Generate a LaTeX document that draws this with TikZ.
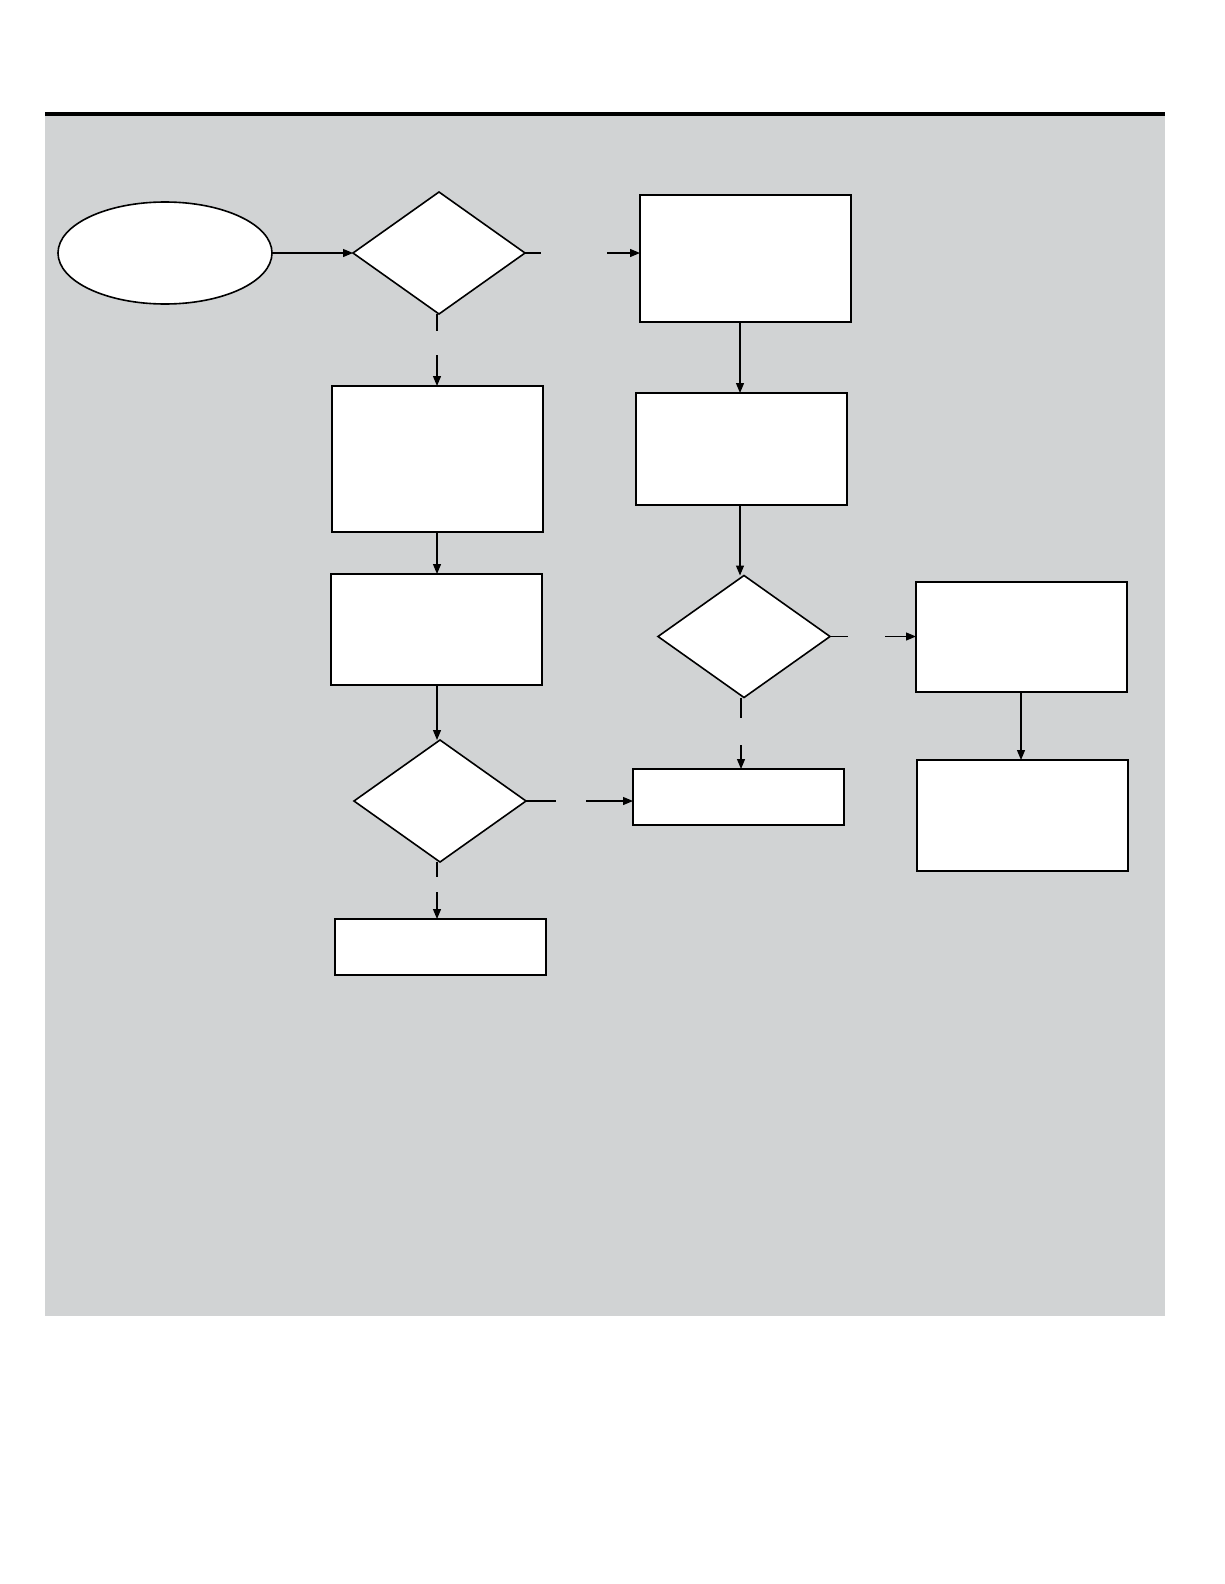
\documentclass[tikz,border=0pt]{standalone}
\usetikzlibrary{shapes.geometric,arrows.meta}
\definecolor{bggray}{RGB}{209,211,212}
\begin{document}
\begin{tikzpicture}[x=1pt,y=-1pt,
  box/.style={draw=black,fill=white,line width=2pt,rectangle,inner sep=0pt,outer sep=0pt},
  thinbox/.style={draw=black,fill=white,line width=1.2pt,rectangle,inner sep=0pt,outer sep=0pt},
  dec/.style={draw=black,fill=white,line width=1.6pt,diamond,inner sep=0pt,outer sep=0pt,minimum width=172pt,minimum height=122pt},
  term/.style={draw=black,fill=white,line width=1.6pt,ellipse,inner sep=0pt,outer sep=0pt,minimum width=214pt,minimum height=102pt},
  conn/.style={line width=1.2pt},
  arr/.style={line width=1.2pt,-{Triangle[length=10pt,width=8pt]}}]
\useasboundingbox (0,0) rectangle (1224,1584);
\fill[white] (0,0) rectangle (1224,1584);
\fill[bggray] (45,116) rectangle (1165,1316);
\draw[line width=4pt] (45,114) -- (1165,114);

\node[term] (start) at (165,253) {};
\node[dec] (d1) at (439,253) {};
\node[box, minimum width=211pt, minimum height=127pt] (a) at (745.5,258.5) {};
\node[box, minimum width=211pt, minimum height=146pt] (b) at (437.5,459) {};
\node[box, minimum width=211pt, minimum height=112pt] (c) at (741.5,449) {};
\node[box, minimum width=211pt, minimum height=111pt] (d) at (436.5,629.5) {};
\node[dec] (d2) at (744,636.5) {};
\node[box, minimum width=211pt, minimum height=110pt] (e) at (1021.5,637) {};
\node[box, minimum width=211pt, minimum height=111pt] (f) at (1022.5,815.5) {};
\node[thinbox, minimum width=211pt, minimum height=56pt] (g) at (738.5,797) {};
\node[dec] (d3) at (440,801) {};
\node[thinbox, minimum width=211pt, minimum height=56pt] (h) at (440.5,947) {};

\coordinate (d1r1) at (541,253);
\coordinate (d1r2) at (607,253);
\coordinate (d1b1) at (437,331);
\coordinate (d1b2) at (437,355);
\coordinate (d2r1) at (848,636.5);
\coordinate (d2r2) at (885,636.5);
\coordinate (d2b1) at (741,718);
\coordinate (d2b2) at (741,745);
\coordinate (d3r1) at (556,801);
\coordinate (d3r2) at (586,801);
\coordinate (d3b1) at (437,877);
\coordinate (d3b2) at (437,892);

\draw[arr] (start.east) -- (d1.west);
\draw[conn] (d1.east) -- (d1r1);
\draw[arr] (d1r2) -- (a.west |- d1r2);
\draw[conn] (d1.south -| d1b1) -- (d1b1);
\draw[arr] (d1b2) -- (b.north -| d1b2);
\draw[arr] (a.south -| 740,0) -- (c.north -| 740,0);
\draw[arr] (b.south -| 437,0) -- (d.north -| 437,0);
\draw[arr] (c.south -| 740,0) -- (d2.north -| 740,0);
\draw[conn] (d2.east) -- (d2r1);
\draw[arr] (d2r2) -- (e.west |- d2r2);
\draw[arr] (e.south -| 1021,0) -- (f.north -| 1021,0);
\draw[conn] (d2.south -| d2b1) -- (d2b1);
\draw[arr] (d2b2) -- (g.north -| d2b2);
\draw[arr] (d.south -| 437,0) -- (d3.north -| 437,0);
\draw[conn] (d3.east) -- (d3r1);
\draw[arr] (d3r2) -- (g.west |- d3r2);
\draw[conn] (d3.south -| d3b1) -- (d3b1);
\draw[arr] (d3b2) -- (h.north -| d3b2);
\end{tikzpicture}
\end{document}
